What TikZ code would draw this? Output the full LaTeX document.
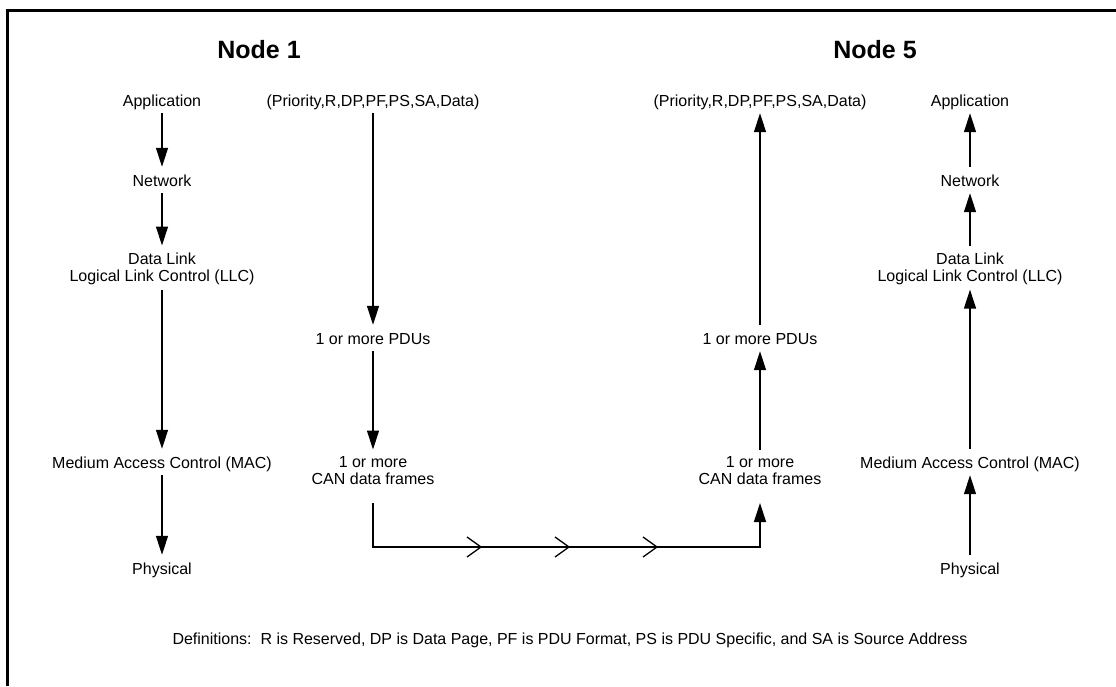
\documentclass[tikz,border=0pt]{standalone}
\usepackage{fontspec}
\setmainfont{Liberation Sans}
\usetikzlibrary{arrows.meta}
\begin{document}
\begin{tikzpicture}[x=1pt,y=-1pt,
  lbl/.style={font=\fontsize{16}{17}\selectfont, inner sep=0pt, text height=12pt, text depth=4pt, anchor=base},
  lbltwo/.style={font=\fontsize{16}{17}\selectfont, inner sep=0pt, align=center, anchor=north},
  ttl/.style={font=\fontsize{25}{30}\selectfont\bfseries, inner sep=0pt, anchor=base},
  ln/.style={line width=1.3pt},
  arr/.style={ln, -{Triangle[length=19pt,width=12pt]}},
  down/.style={arr, shorten <=3pt, shorten >=7pt},
  up/.style={arr, shorten <=7pt, shorten >=3pt},
  chev/.style={line width=1.3pt},
]
\useasboundingbox (0,0) rectangle (1116,686);
\draw[line width=3pt] (1116,10) -- (7,10) -- (7,686);

% titles
\node[ttl] (t1) at (259,58) {Node 1};
\node[ttl] (t5) at (875,58) {Node 5};

% left column (Node 1 layers)
\node[lbl] (app1) at (162,106) {Application};
\node[lbl] (net1) at (162,186) {Network};
\node[lbltwo] (dl1) at (162,252.5) {Data Link\\Logical Link Control (LLC)\strut};
\node[lbl] (mac1) at (162,468) {Medium Access Control (MAC)};
\node[lbl] (phy1) at (162,574) {Physical};

% middle-left column
\node[lbl] (pri1) at (373,106) {(Priority,R,DP,PF,PS,SA,Data)};
\node[lbl] (pdu1) at (373,344) {1 or more PDUs};
\node[lbltwo] (can1) at (373,456.5) {1 or more\\CAN data frames\strut};

% middle-right column
\node[lbl] (pri5) at (760,106) {(Priority,R,DP,PF,PS,SA,Data)};
\node[lbl] (pdu5) at (760,344) {1 or more PDUs};
\node[lbltwo] (can5) at (760,456.5) {1 or more\\CAN data frames\strut};

% right column (Node 5 layers)
\node[lbl] (app5) at (970,106) {Application};
\node[lbl] (net5) at (970,186) {Network};
\node[lbltwo] (dl5) at (970,252.5) {Data Link\\Logical Link Control (LLC)\strut};
\node[lbl] (mac5) at (970,468) {Medium Access Control (MAC)};
\node[lbl] (phy5) at (970,574) {Physical};

% definitions
\node[lbl] (defs) at (570,644) {Definitions:\ \ R is Reserved, DP is Data Page, PF is PDU Format, PS is PDU Specific, and SA is Source Address};

% Node 1 arrows (downward)
\draw[down] (app1.south) -- (net1.north);
\draw[down] (net1.south) -- (dl1.north);
\draw[down] (dl1.south) -- (mac1.north);
\draw[down] (mac1.south) -- (phy1.north);
\draw[down] (pri1.south) -- (pdu1.north);
\draw[down] (pdu1.south) -- (can1.north);

% bus
\coordinate (bus) at (0,547);
\draw[arr, shorten <=13pt, shorten >=13pt] (can1.south) -- (can1.south |- bus) -| (can5.south);
\foreach \x in {481,569,657}{
  \draw[chev] (\x-14,537) -- (\x,547) -- (\x-14,557);
}

% Node 5 arrows (upward)
\draw[up] (can5.north) -- (pdu5.south);
\draw[up] (pdu5.north) -- (pri5.south);
\draw[up] (phy5.north) -- (mac5.south);
\draw[up] (mac5.north) -- (dl5.south);
\draw[up] (dl5.north) -- (net5.south);
\draw[up] (net5.north) -- (app5.south);
\end{tikzpicture}
\end{document}
